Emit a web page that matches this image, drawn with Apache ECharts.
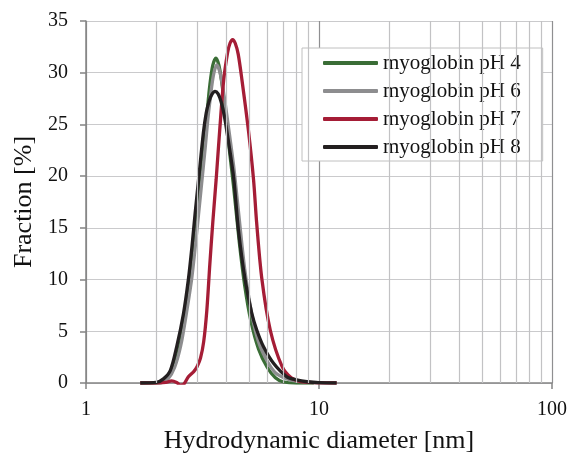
<!DOCTYPE html>
<html>
<head>
<meta charset="utf-8">
<script src="https://cdn.jsdelivr.net/npm/echarts@6/dist/echarts.min.js"></script>
<style>
html,body{margin:0;padding:0;background:#fff;}
#chart{width:569px;height:454px;}
</style>
</head>
<body>
<div id="chart"></div>
<script>
// ---- data ----
var seriesNames = ['myoglobin pH 4', 'myoglobin pH 6', 'myoglobin pH 7', 'myoglobin pH 8'];

var xPH4 = [1.71, 2.1, 2.25, 2.4, 2.55, 2.7, 2.85, 3.0, 3.12, 3.25, 3.33, 3.4, 3.5, 3.61, 3.72, 3.85, 4.0, 4.15, 4.3, 4.55, 4.8, 5.1, 5.5, 6.0, 6.5, 7.0, 8.0, 9.5];
var yPH4 = [0, 0.05, 0.5, 1.8, 4.0, 7.5, 11.6, 16.3, 20.2, 24.0, 26.8, 28.8, 30.7, 31.4, 30.7, 28.6, 25.3, 22.0, 19.0, 13.6, 9.4, 6.0, 3.3, 1.5, 0.5, 0.12, 0, 0];

var xPH6 = [1.71, 2.1, 2.25, 2.4, 2.55, 2.7, 2.85, 3.0, 3.12, 3.25, 3.33, 3.4, 3.52, 3.64, 3.76, 3.9, 4.05, 4.3, 4.55, 4.8, 5.15, 5.5, 6.0, 6.5, 7.3, 8.2, 9.5, 11.9];
var yPH6 = [0, 0.05, 0.4, 1.5, 3.6, 6.8, 10.3, 15.0, 18.8, 22.8, 25.4, 27.2, 29.7, 30.75, 30.0, 28.0, 25.4, 21.0, 15.8, 11.0, 6.6, 4.0, 2.1, 1.0, 0.4, 0.15, 0.05, 0];

var xPH7 = [1.71, 2.0, 2.2, 2.33, 2.45, 2.54, 2.62, 2.75, 2.9, 3.0, 3.1, 3.2, 3.3, 3.4, 3.5, 3.62, 3.75, 3.9, 4.05, 4.15, 4.26, 4.37, 4.5, 4.67, 4.98, 5.24, 5.4, 5.69, 6.18, 6.94, 7.6, 8.3, 9.5, 11.9];
var yPH7 = [0, 0, 0.05, 0.2, 0.05, -0.2, -0.15, 0.6, 1.1, 1.6, 2.4, 4.0, 7.0, 11.5, 15.5, 19.7, 24.5, 29.3, 31.9, 32.85, 33.2, 32.85, 31.8, 29.3, 24.4, 19.6, 15.5, 10.0, 5.1, 1.6, 0.5, 0.15, 0.03, 0];

var xPH8 = [1.71, 2.0, 2.15, 2.3, 2.45, 2.62, 2.75, 2.85, 2.94, 3.04, 3.19, 3.28, 3.37, 3.47, 3.58, 3.69, 3.8, 3.91, 4.02, 4.3, 4.51, 4.82, 5.15, 5.41, 5.78, 6.38, 7.28, 8.0, 8.88, 10.0, 11.9];
var yPH8 = [0, 0.05, 0.4, 1.2, 3.5, 6.7, 10.0, 13.2, 16.4, 19.6, 24.2, 26.1, 27.2, 27.9, 28.2, 27.95, 27.2, 26.0, 24.4, 19.9, 14.8, 9.95, 6.7, 5.1, 3.5, 1.9, 0.6, 0.3, 0.12, 0.04, 0];

var yTicks = [0, 5, 10, 15, 20, 25, 30, 35];
var xTicks = [1, 10, 100];
var minorGridX = [2, 3, 4, 5, 6, 7, 8, 9, 20, 30, 40, 50, 60, 70, 80, 90];

var colors = ['#3a6d36', '#8d8d8f', '#a51d36', '#231f20'];

// ---- build ----
function zip(xs, ys) { return xs.map(function (x, i) { return [x, ys[i]]; }); }
var allData = [zip(xPH4, yPH4), zip(xPH6, yPH6), zip(xPH7, yPH7), zip(xPH8, yPH8)];

var FONT = 'Liberation Serif';
var series = [{
  name: 'grid-minor',
  type: 'line',
  data: [],
  z: 1,
  silent: true,
  markLine: {
    silent: true,
    symbol: 'none',
    animation: false,
    label: { show: false },
    lineStyle: { color: '#c2c2c4', width: 1.2, type: 'solid' },
    emphasis: { disabled: true },
    data: minorGridX.map(function (v) { return { xAxis: v }; })
  }
}];
seriesNames.forEach(function (n, i) {
  series.push({
    name: n,
    type: 'line',
    data: allData[i],
    z: 3,
    smooth: 0.3,
    showSymbol: false,
    symbol: 'none',
    lineStyle: { color: colors[i], width: 3.3 },
    itemStyle: { color: colors[i] },
    animation: false
  });
});

var chart = echarts.init(document.getElementById('chart'), null, { renderer: 'canvas' });
chart.setOption({
  animation: false,
  backgroundColor: '#fff',
  color: colors,
  grid: { left: 86, right: 17, top: 21, bottom: 71, containLabel: false, outerBoundsMode: 'none' },
  legend: {
    data: seriesNames,
    orient: 'vertical',
    left: 302,
    top: 48,
    backgroundColor: '#fff',
    borderColor: '#c0c0c0',
    borderWidth: 1,
    padding: [3, 22, 2, 21],
    itemWidth: 55,
    itemHeight: 4,
    itemGap: 4,
    icon: 'roundRect',
    textStyle: { fontFamily: FONT, fontSize: 21, color: '#111', lineHeight: 24 },
    selectedMode: false
  },
  xAxis: {
    type: 'log',
    logBase: 10,
    min: 1,
    max: 100,
    name: 'Hydrodynamic diameter [nm]',
    nameLocation: 'middle',
    nameGap: 45,
    nameTextStyle: { fontFamily: FONT, fontSize: 26, color: '#111' },
    axisLine: { onZero: false, lineStyle: { color: '#848484', width: 1.5 } },
    axisTick: { show: true, inside: false, length: 6, lineStyle: { color: '#848484', width: 1.5 } },
    axisLabel: {
      fontFamily: FONT, fontSize: 20, color: '#111', margin: 17,
      formatter: function (v) { return xTicks.indexOf(Math.round(v)) >= 0 ? String(Math.round(v)) : ''; }
    },
    splitLine: { show: true, lineStyle: { color: '#8f8f91', width: 1.2 } },
    minorTick: { show: false },
    minorSplitLine: { show: false }
  },
  yAxis: {
    type: 'value',
    min: 0,
    max: 35,
    interval: 5,
    name: 'Fraction [%]',
    nameLocation: 'middle',
    nameGap: 48,
    nameTextStyle: { fontFamily: FONT, fontSize: 26, color: '#111' },
    axisLine: { show: true, lineStyle: { color: '#848484', width: 1.5 } },
    axisTick: { show: true, inside: false, length: 6, lineStyle: { color: '#848484', width: 1.5 } },
    axisLabel: {
      fontFamily: FONT, fontSize: 20, color: '#111', margin: 18,
      formatter: function (v) { return yTicks.indexOf(v) >= 0 ? String(v) : ''; }
    },
    splitLine: { show: true, lineStyle: { color: '#cacacc', width: 1.2 } }
  },
  series: series
});
</script>
</body>
</html>
